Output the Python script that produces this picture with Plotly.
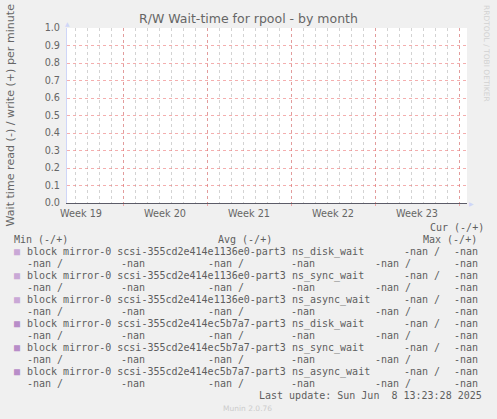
import plotly.graph_objects as go

# nothing was recorded this month, so every sample is nan
sample_times = ["2025-05-07 08:00", "2025-06-08 13:23"]
read_values = [None, None]
write_values = [None, None]

week_starts = ["2025-05-12", "2025-05-19", "2025-05-26", "2025-06-02", "2025-06-09"]
week_mids = ["2025-05-08 12:00", "2025-05-15 12:00", "2025-05-22 12:00",
             "2025-05-29 12:00", "2025-06-05 12:00"]
week_labels = ["Week 19", "Week 20", "Week 21", "Week 22", "Week 23"]

series_names = [
    "block mirror-0 scsi-355cd2e414e1136e0-part3 ns_disk_wait",
    "block mirror-0 scsi-355cd2e414e1136e0-part3 ns_sync_wait",
    "block mirror-0 scsi-355cd2e414e1136e0-part3 ns_async_wait",
    "block mirror-0 scsi-355cd2e414ec5b7a7-part3 ns_disk_wait",
    "block mirror-0 scsi-355cd2e414ec5b7a7-part3 ns_sync_wait",
    "block mirror-0 scsi-355cd2e414ec5b7a7-part3 ns_async_wait",
]
series_colors = ["#c9a8d6", "#c9a8d6", "#c9a8d6", "#b88dc8", "#b88dc8", "#b88dc8"]

cur_read = ["-nan", "-nan", "-nan", "-nan", "-nan", "-nan"]
cur_write = ["-nan", "-nan", "-nan", "-nan", "-nan", "-nan"]
min_read = ["-nan", "-nan", "-nan", "-nan", "-nan", "-nan"]
min_write = ["-nan", "-nan", "-nan", "-nan", "-nan", "-nan"]
avg_read = ["-nan", "-nan", "-nan", "-nan", "-nan", "-nan"]
avg_write = ["-nan", "-nan", "-nan", "-nan", "-nan", "-nan"]
max_read = ["-nan", "-nan", "-nan", "-nan", "-nan", "-nan"]
max_write = ["-nan", "-nan", "-nan", "-nan", "-nan", "-nan"]

last_update = "Last update: Sun Jun  8 13:23:28 2025"

W, H = 497, 419
L, T, PW, PH = 67, 28, 400, 175
FONT = "#666666"
MONO = "DejaVu Sans Mono"
SANS = "DejaVu Sans"
RED_GRID = "rgba(236,120,120,0.6)"
GRAY_GRID = "rgba(175,175,175,0.55)"


def px(x):
    return (x - L) / PW


def py(y):
    return (T + PH - y) / PH


def nb(s):
    return s.replace(" ", "\u00a0")


fig = go.Figure()
for name, color in zip(series_names, series_colors):
    fig.add_trace(go.Scatter(x=sample_times, y=read_values, mode="lines",
                             line=dict(color=color, width=1), name=name,
                             showlegend=False))
    fig.add_trace(go.Scatter(x=sample_times, y=write_values, mode="lines",
                             line=dict(color=color, width=1), name=name,
                             showlegend=False))
# carrier for the week-boundary grid axis
fig.add_trace(go.Scatter(x=sample_times, y=read_values, xaxis="x2",
                         mode="lines", showlegend=False, hoverinfo="skip"))

ann = []


def text(x, y, s, size=10, color="#5e5e5e", family=MONO, anchor="left", angle=0):
    ann.append(dict(x=px(x), y=py(y), xref="paper", yref="paper", text=nb(s),
                    showarrow=False, xanchor=anchor, yanchor="middle",
                    borderpad=0, borderwidth=0, textangle=angle,
                    font=dict(family=family, size=size, color=color)))


# legend headers
text(429.7, 227.5, "Cur (-/+)")
text(14, 239.5, "Min (-/+)")
text(218, 239.5, "Avg (-/+)")
text(423, 239.5, "Max (-/+)")

for i, name in enumerate(series_names):
    ya = 251.5 + 24 * i
    yb = ya + 12
    text(13.5, ya, "\u25a0", color=series_colors[i])
    text(26.7, ya, name)
    text(403.7, ya, cur_read[i] + " /")
    text(453.7, ya, cur_write[i])
    text(26.7, yb, min_read[i] + " /")
    text(120.7, yb, min_write[i])
    text(207.7, yb, avg_read[i] + " /")
    text(291.3, yb, avg_write[i])
    text(375.3, yb, max_read[i] + " /")
    text(453.7, yb, max_write[i])

text(482, 395.5, last_update, anchor="right")
text(247.5, 408, "Munin 2.0.76", size=7.5, color="#cccccc", family=SANS, anchor="center")
text(486.5, 53.5, "RRDTOOL / TOBI OETIKER", size=7.5, color="#d2d2d2", family=SANS,
     anchor="center", angle=90)
text(10, 115.5, "Wait time read (-) / write (+) per minute", size=11.1, color=FONT,
     family=SANS, anchor="center", angle=-90)
# axis arrows
text(67.5, 23, "\u25b2", size=6, color="#cfd6f8", family=SANS, anchor="center")
text(471, 203, "\u25b6", size=6, color="#cfd6f8", family=SANS, anchor="center")

x_range = ["2025-05-07 08:00", "2025-06-09 16:00"]

fig.update_layout(
    width=W, height=H, autosize=False,
    margin=dict(l=L, r=W - L - PW, t=T, b=H - T - PH, pad=0),
    paper_bgcolor="#f0f0f0", plot_bgcolor="#ffffff",
    title=dict(text="R/W Wait-time for rpool - by month", x=0.5, xref="container",
               xanchor="center", y=1 - 18.5 / H, yref="container", yanchor="middle",
               font=dict(family=SANS, size=12.5, color=FONT)),
    xaxis=dict(type="date", range=x_range, tickvals=week_mids, ticktext=week_labels,
               showgrid=False, zeroline=False, ticks="outside", ticklen=1,
               tickcolor="rgba(0,0,0,0)",
               tickfont=dict(family=SANS, size=9.7, color=FONT),
               showline=True, linecolor="#5c5c68", linewidth=1,
               minor=dict(dtick=86400000, tick0="2025-05-05", showgrid=True,
                          gridcolor=GRAY_GRID, griddash="dot", gridwidth=1)),
    xaxis2=dict(type="date", range=x_range, overlaying="x", side="bottom",
                tickvals=week_starts, showticklabels=False, showgrid=True,
                gridcolor=RED_GRID, griddash="dot", gridwidth=1,
                ticks="outside", ticklen=2, tickcolor=RED_GRID,
                zeroline=False, showline=False),
    yaxis=dict(range=[0, 1], dtick=0.1, tickformat=".1f", showgrid=True,
               gridcolor=RED_GRID, griddash="dot", gridwidth=1,
               zeroline=False, showline=True, linecolor="#cfd6f8", linewidth=1,
               ticks="outside", ticklen=4, tickcolor="rgba(0,0,0,0)",
               tickfont=dict(family=SANS, size=9.7, color=FONT)),
    annotations=ann,
    showlegend=False,
)

# the page body has a default 8px margin; drop it so the figure sits at 0,0
fig.write_html("out.html", config={"displayModeBar": False},
               post_script="document.body.style.margin='0';")
